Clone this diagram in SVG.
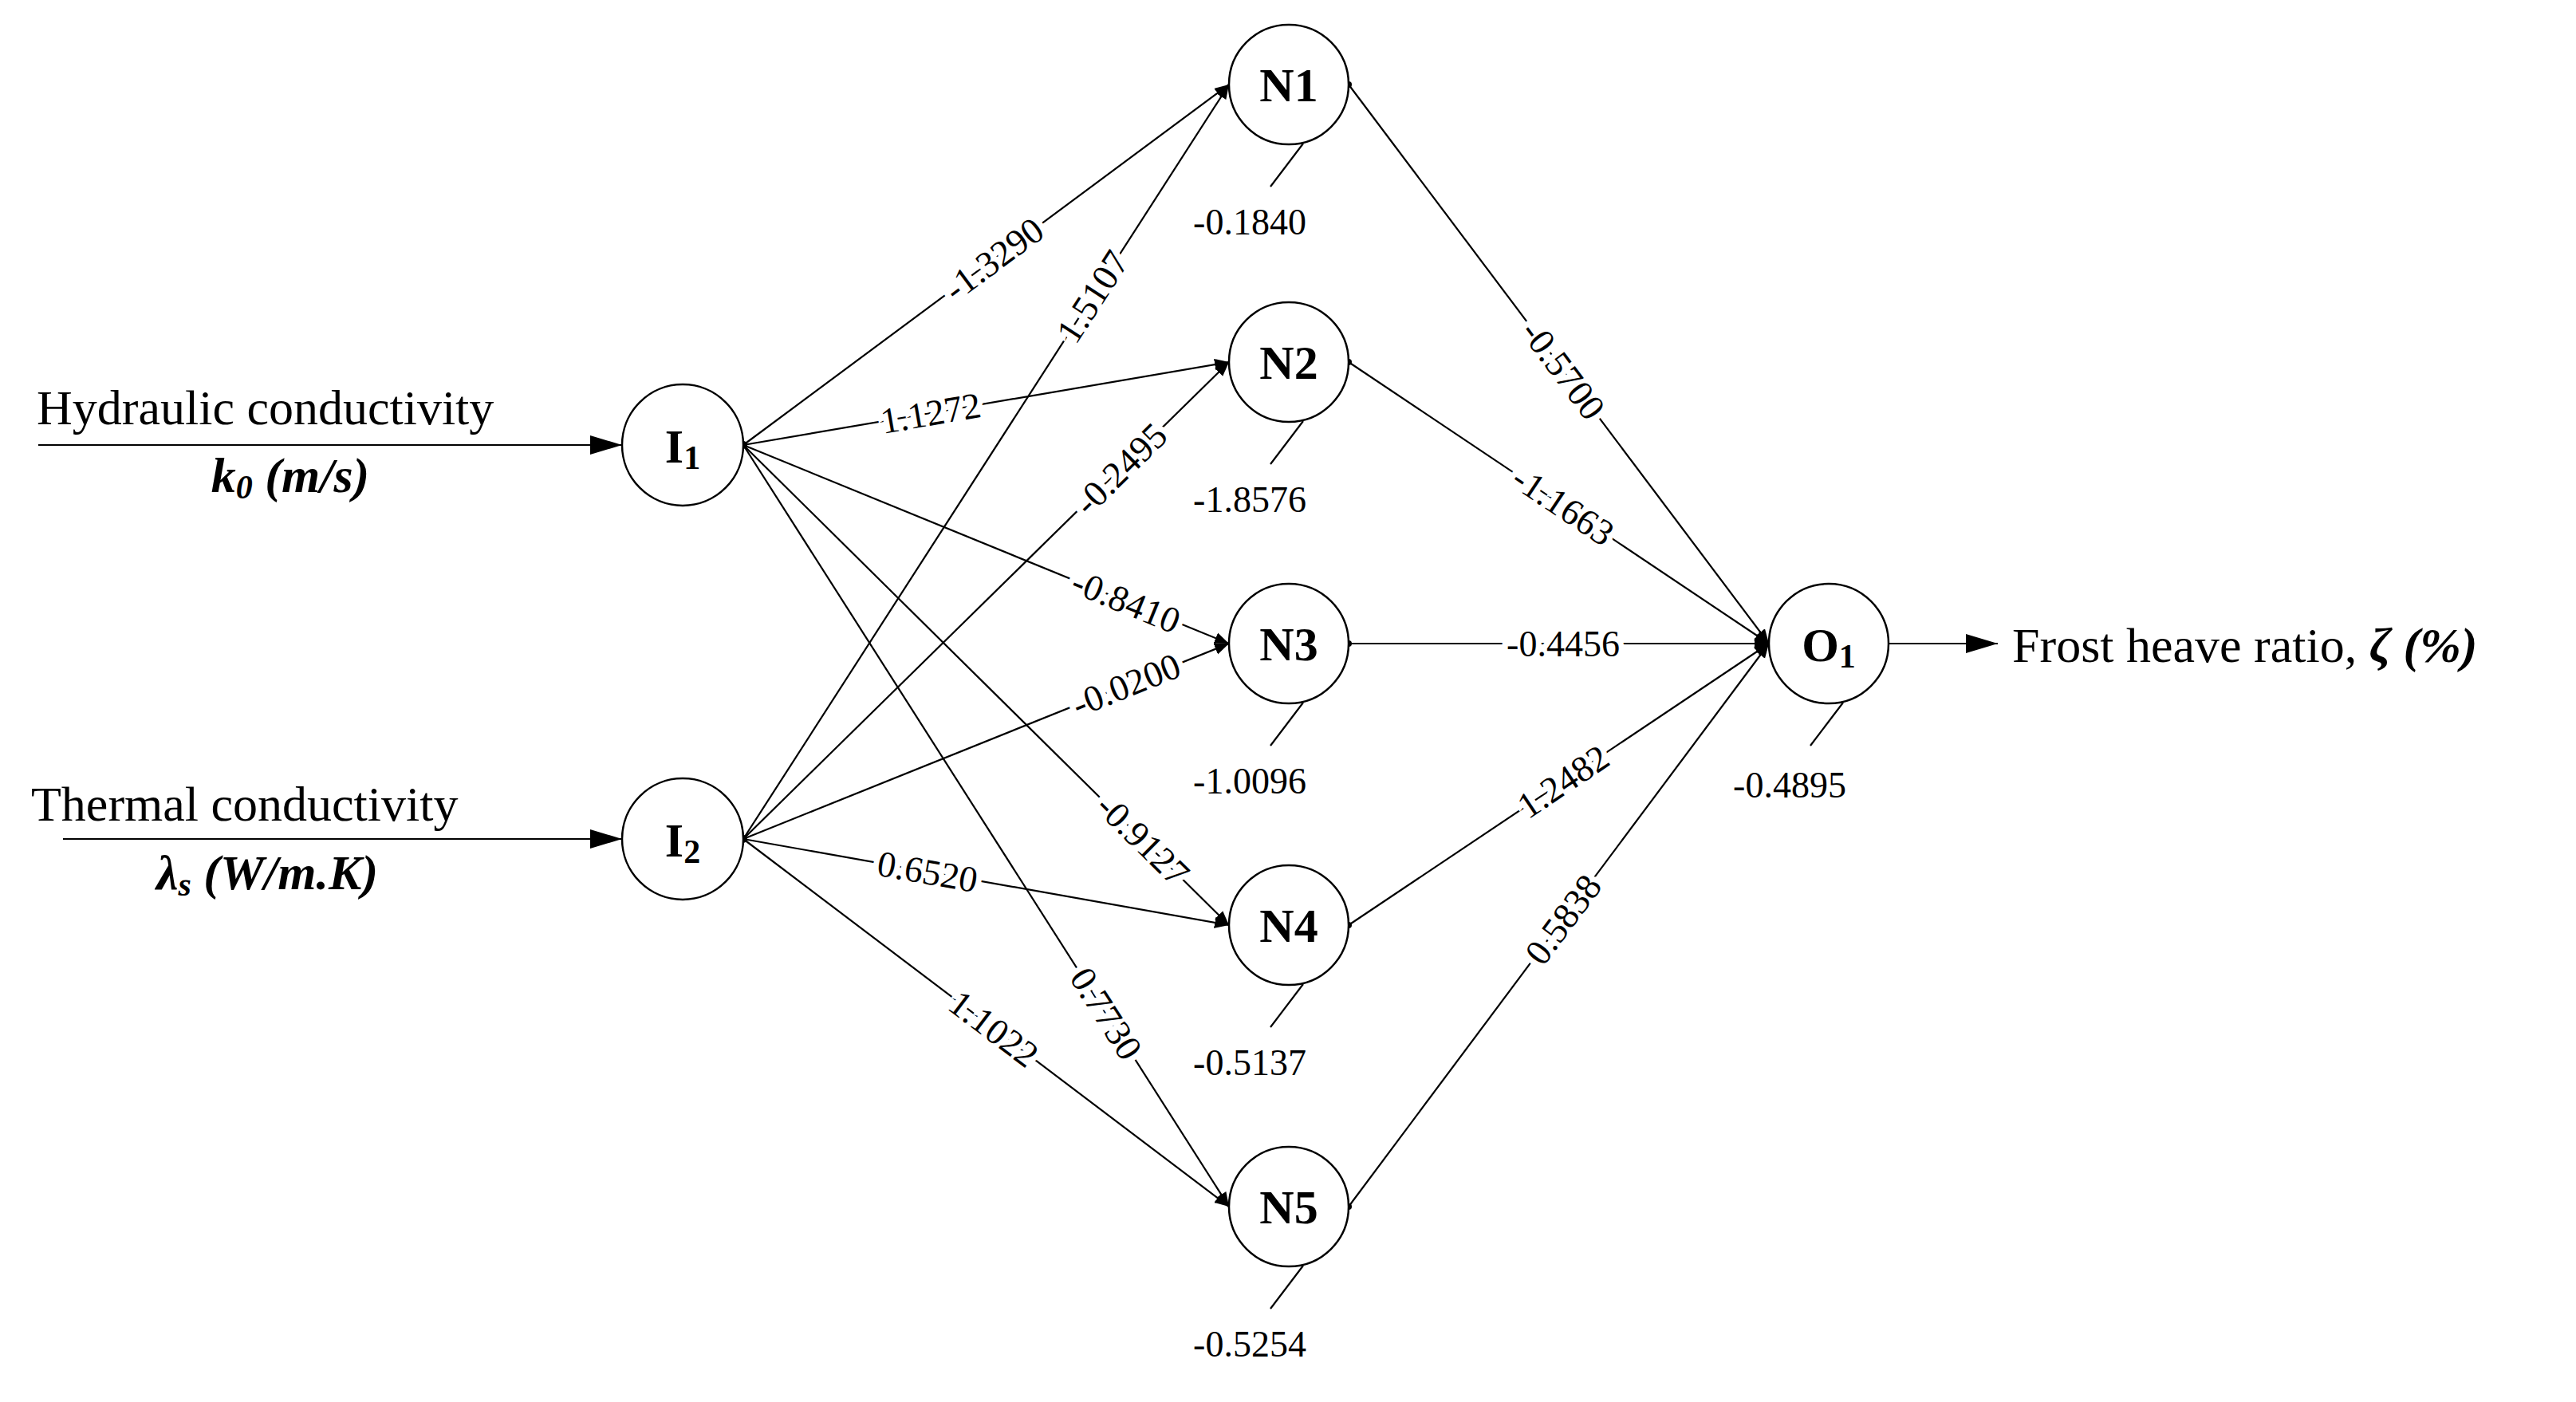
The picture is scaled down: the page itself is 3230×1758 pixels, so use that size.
<svg xmlns="http://www.w3.org/2000/svg" width="3230" height="1758" viewBox="0 0 3230 1758">
<defs>
<marker id="sa" viewBox="0 0 10 10" refX="10" refY="5" markerWidth="18" markerHeight="18" markerUnits="userSpaceOnUse" orient="auto"><path d="M0,1 L10,5 L0,9 z" fill="#000"/></marker>
<marker id="ba" viewBox="0 0 10 10" refX="10" refY="5" markerWidth="40" markerHeight="40" markerUnits="userSpaceOnUse" orient="auto"><path d="M0,2 L10,5 L0,8 z" fill="#000"/></marker>
</defs>
<style>
.n{fill:#fff;stroke:#000;stroke-width:2.5}
.c line{stroke:#000;stroke-width:2.2}
.w{font-family:"Liberation Serif",serif;font-size:46px;text-anchor:middle;dominant-baseline:central;stroke:#fff;stroke-width:14;paint-order:stroke;fill:#000}
.b{font-family:"Liberation Serif",serif;font-size:46px;text-anchor:middle;fill:#000}
.nl{font-family:"Liberation Serif",serif;font-size:60px;font-weight:bold;text-anchor:middle;fill:#000}
.t{font-family:"Liberation Serif",serif;font-size:62px;fill:#000}
</style>
<rect width="3230" height="1758" fill="#fff"/>
<g class="c" id="connectors">
<line x1="48" y1="558" x2="780" y2="558" marker-end="url(#ba)"/>
<line x1="79" y1="1052" x2="780" y2="1052" marker-end="url(#ba)"/>
<line x1="2368" y1="807" x2="2505" y2="807" marker-end="url(#ba)"/>
<line x1="932" y1="558" x2="1541" y2="106" marker-end="url(#sa)"/>
<line x1="932" y1="558" x2="1541" y2="454" marker-end="url(#sa)"/>
<line x1="932" y1="558" x2="1541" y2="807" marker-end="url(#sa)"/>
<line x1="932" y1="558" x2="1541" y2="1160" marker-end="url(#sa)"/>
<line x1="932" y1="558" x2="1541" y2="1513" marker-end="url(#sa)"/>
<line x1="932" y1="1052" x2="1541" y2="106" marker-end="url(#sa)"/>
<line x1="932" y1="1052" x2="1541" y2="454" marker-end="url(#sa)"/>
<line x1="932" y1="1052" x2="1541" y2="807" marker-end="url(#sa)"/>
<line x1="932" y1="1052" x2="1541" y2="1160" marker-end="url(#sa)"/>
<line x1="932" y1="1052" x2="1541" y2="1513" marker-end="url(#sa)"/>
<line x1="1691" y1="106" x2="2218" y2="807" marker-end="url(#sa)"/>
<line x1="1691" y1="454" x2="2218" y2="807" marker-end="url(#sa)"/>
<line x1="1691" y1="807" x2="2218" y2="807" marker-end="url(#sa)"/>
<line x1="1691" y1="1160" x2="2218" y2="807" marker-end="url(#sa)"/>
<line x1="1691" y1="1513" x2="2218" y2="807" marker-end="url(#sa)"/>
<line x1="1634" y1="180" x2="1593" y2="234"/>
<line x1="1634" y1="528" x2="1593" y2="582"/>
<line x1="1634" y1="881" x2="1593" y2="935"/>
<line x1="1634" y1="1234" x2="1593" y2="1288"/>
<line x1="1634" y1="1587" x2="1593" y2="1641"/>
<line x1="2311" y1="881" x2="2270" y2="935"/>
</g>
<g id="dots" fill="#000">
<circle cx="932" cy="558" r="5"/><circle cx="932" cy="1052" r="5"/>
<circle cx="1691" cy="106" r="4"/><circle cx="1691" cy="454" r="4"/><circle cx="1691" cy="807" r="4"/><circle cx="1691" cy="1160" r="4"/><circle cx="1691" cy="1513" r="4"/>
</g>
<g id="weights">
<text class="w" transform="translate(1246,325) rotate(-36.6)">-1.3290</text>
<text class="w" transform="translate(1167,518) rotate(-9.7)">1.1272</text>
<text class="w" transform="translate(1412,754) rotate(22.2)">-0.8410</text>
<text class="w" transform="translate(1433,1053) rotate(44.7)">-0.9127</text>
<text class="w" transform="translate(1387,1271) rotate(57.5)">0.7730</text>
<text class="w" transform="translate(1370,372) rotate(-57.2)">1.5107</text>
<text class="w" transform="translate(1405,588) rotate(-44.5)">-0.2495</text>
<text class="w" transform="translate(1412,859) rotate(-21.9)">-0.0200</text>
<text class="w" transform="translate(1163,1093) rotate(10.1)">0.6520</text>
<text class="w" transform="translate(1246,1290) rotate(37.1)">1.1022</text>
<text class="w" transform="translate(1960,464) rotate(53.1)">-0.5700</text>
<text class="w" transform="translate(1960,634) rotate(33.8)">-1.1663</text>
<text class="w" transform="translate(1960,807)">-0.4456</text>
<text class="w" transform="translate(1960,980) rotate(-33.8)">1.2482</text>
<text class="w" transform="translate(1960,1153) rotate(-53.3)">0.5838</text>
</g>
<g id="biases">
<text class="b" x="1567" y="294">-0.1840</text>
<text class="b" x="1567" y="642">-1.8576</text>
<text class="b" x="1567" y="995">-1.0096</text>
<text class="b" x="1567" y="1348">-0.5137</text>
<text class="b" x="1567" y="1701">-0.5254</text>
<text class="b" x="2244" y="1000">-0.4895</text>
</g>
<g id="I1"><circle class="n" cx="856" cy="558" r="76"/><text class="nl" x="856" y="580">I<tspan font-size="42" dy="8">1</tspan></text></g>
<g id="I2"><circle class="n" cx="856" cy="1052" r="76"/><text class="nl" x="856" y="1074">I<tspan font-size="42" dy="8">2</tspan></text></g>
<g id="N1"><circle class="n" cx="1616" cy="106" r="75"/><text class="nl" x="1616" y="127">N1</text></g>
<g id="N2"><circle class="n" cx="1616" cy="454" r="75"/><text class="nl" x="1616" y="475">N2</text></g>
<g id="N3"><circle class="n" cx="1616" cy="807" r="75"/><text class="nl" x="1616" y="828">N3</text></g>
<g id="N4"><circle class="n" cx="1616" cy="1160" r="75"/><text class="nl" x="1616" y="1181">N4</text></g>
<g id="N5"><circle class="n" cx="1616" cy="1513" r="75"/><text class="nl" x="1616" y="1534">N5</text></g>
<g id="O1"><circle class="n" cx="2293" cy="807" r="75"/><text class="nl" x="2293" y="829">O<tspan font-size="42" dy="8">1</tspan></text></g>
<g id="labels">
<text class="t" x="46" y="532">Hydraulic conductivity</text>
<text class="t" x="364" y="617" text-anchor="middle" font-weight="bold" font-style="italic">k<tspan font-size="42" dy="8">0</tspan><tspan dy="-8"> (m/s)</tspan></text>
<text class="t" x="39" y="1029">Thermal conductivity</text>
<text class="t" x="335" y="1115" text-anchor="middle" font-weight="bold" font-style="italic">λ<tspan font-size="42" dy="8">s</tspan><tspan dy="-8"> (W/m.K)</tspan></text>
<text class="t" x="2523" y="830">Frost heave ratio, <tspan font-weight="bold" font-style="italic">ζ (%)</tspan></text>
</g>
</svg>
